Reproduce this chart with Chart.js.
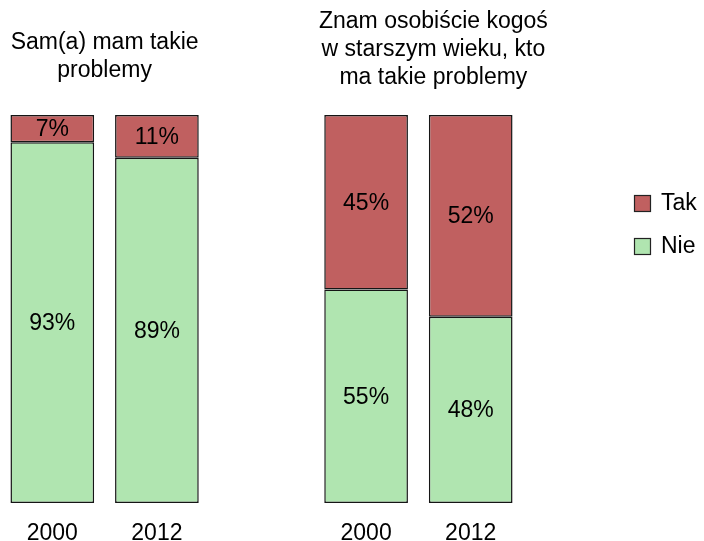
<!DOCTYPE html>
<html>
<head>
<meta charset="utf-8">
<script src="https://cdn.jsdelivr.net/npm/chart.js@4"></script>
<style>
  html, body { margin: 0; padding: 0; background: #fff; }
  #wrap { position: relative; width: 704px; height: 541px; }
</style>
</head>
<body>
<div id="wrap"><canvas id="chart"></canvas></div>
<script>
const labels = ['2000', '2012', '', '2000', '2012']
const nieValues = [93, 89, null, 55, 48]
const takValues = [7, 11, null, 45, 52]
const groupTitles = [
  ['Sam(a) mam takie', 'problemy'],
  ['Znam osobiście kogoś', 'w starszym wieku, kto', 'ma takie problemy']
]
const legendItems = [
  { text: 'Tak', color: '#c06060' },
  { text: 'Nie', color: '#b0e5b0' }
]

const FONT = '"Liberation Sans", Arial, sans-serif'

// titles, value labels and legend drawn onto the canvas
const extras = {
  id: 'extras',
  afterDatasetsDraw (chart) {
    const { ctx } = chart
    const x = chart.scales.x
    ctx.save()
    ctx.fillStyle = '#000'
    ctx.font = '23px ' + FONT
    ctx.textAlign = 'center'
    ctx.textBaseline = 'middle'

    // value labels
    chart.data.datasets.forEach((ds, i) => {
      const meta = chart.getDatasetMeta(i)
      meta.data.forEach((bar, j) => {
        if (ds.data[j] == null) return
        const mid = (bar.y + bar.base) / 2
        ctx.fillText(ds.data[j] + '%', bar.x, mid + 1)
      })
    })

    // group titles (right one sits a bit right of its bars in the original)
    const centers = [
      (x.getPixelForValue(0) + x.getPixelForValue(1)) / 2,
      (x.getPixelForValue(3) + x.getPixelForValue(4)) / 2 + 15
    ]
    const bottoms = [71, 78]
    groupTitles.forEach((lines, g) => {
      lines.forEach((line, k) => {
        ctx.fillText(line, centers[g], bottoms[g] - (lines.length - 1 - k) * 28)
      })
    })

    // legend
    ctx.textAlign = 'left'
    legendItems.forEach((item, k) => {
      const y = 203.5 + k * 43
      ctx.fillStyle = item.color
      ctx.fillRect(634, y - 8.5, 17, 17)
      ctx.strokeStyle = '#222'
      ctx.lineWidth = 1.2
      ctx.strokeRect(634.5, y - 8, 16, 16)
      ctx.fillStyle = '#000'
      ctx.fillText(item.text, 661, y)
    })
    ctx.restore()
  }
}

new Chart(document.getElementById('chart'), {
  type: 'bar',
  data: {
    labels,
    datasets: [
      {
        label: 'Nie',
        data: nieValues,
        backgroundColor: '#b0e5b0',
        borderColor: '#151515',
        borderWidth: 1.5,
        borderSkipped: false
      },
      {
        label: 'Tak',
        data: takValues,
        backgroundColor: '#c06060',
        borderColor: '#151515',
        borderWidth: 1.5,
        borderSkipped: false
      }
    ]
  },
  options: {
    responsive: true,
    maintainAspectRatio: false,
    animation: false,
    layout: { padding: { top: 115, right: 181, left: 0, bottom: -23 } },
    datasets: { bar: { barPercentage: 0.8, categoryPercentage: 1 } },
    plugins: {
      legend: { display: false },
      tooltip: { enabled: false }
    },
    scales: {
      x: {
        stacked: true,
        grid: { display: false, drawTicks: false },
        border: { display: false },
        ticks: {
          color: '#000',
          padding: 19,
          font: { family: FONT, size: 23, lineHeight: 1 }
        }
      },
      y: {
        stacked: true,
        display: false,
        min: 0,
        max: 100
      }
    }
  },
  plugins: [extras]
})
</script>
</body>
</html>
